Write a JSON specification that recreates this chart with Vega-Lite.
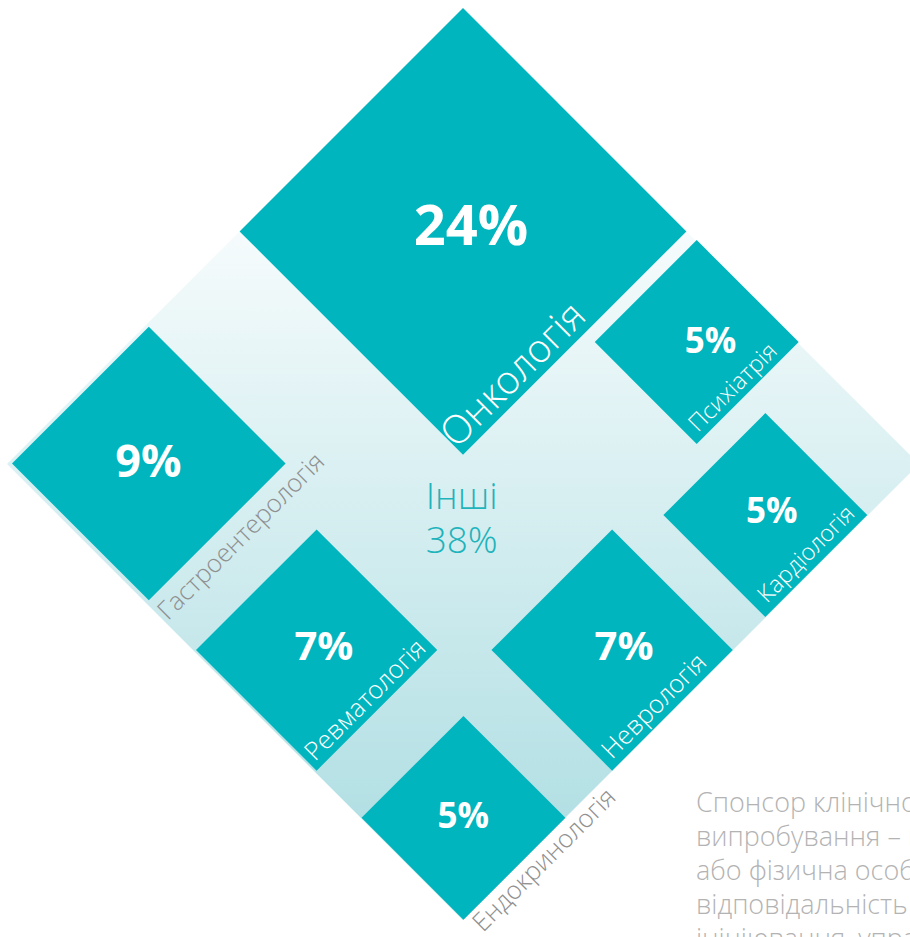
{
  "$schema": "https://vega.github.io/schema/vega-lite/v6.json",
  "width": 910,
  "height": 937,
  "autosize": {"type": "none"},
  "padding": 0,
  "background": "#ffffff",
  "config": {"view": {"stroke": null}, "font": "Open Sans"},
  "datasets": {
    "whole": [{"group": "Усі", "pct": 1, "cx": 0, "cy": 0}],
    "areas": [
      {"category": "Онкологія", "pct": 0.24, "cx": 0, "cy": -51, "px": 1.75, "py": -48.0, "lx": -1.43, "ly": -3.18, "place": "inside"},
      {"category": "Психіатрія", "pct": 0.05, "cx": 51.25, "cy": -26.75, "px": 54.3, "py": -24.3, "lx": 51.54, "ly": -6.8, "place": "inside"},
      {"category": "Кардіологія", "pct": 0.05, "cx": 66.3, "cy": 11.2, "px": 67.7, "py": 13.0, "lx": 66.67, "ly": 30.7, "place": "inside"},
      {"category": "Гастроентерологія", "pct": 0.09, "cx": -68.9, "cy": -0.1, "px": -68.97, "py": 2.85, "lx": -64.7, "ly": 34.5, "place": "outside"},
      {"category": "Ревматологія", "pct": 0.07, "cx": -32.1, "cy": 40.8, "px": -30.5, "py": 43.0, "lx": -32.46, "ly": 65.35, "place": "inside"},
      {"category": "Неврологія", "pct": 0.07, "cx": 32.7, "cy": 40.8, "px": 35.3, "py": 43.0, "lx": 32.7, "ly": 64.9, "place": "inside"},
      {"category": "Ендокринологія", "pct": 0.05, "cx": 0.1, "cy": 77.6, "px": 0.07, "py": 79.9, "lx": 4.39, "ly": 102.85, "place": "outside"}
    ],
    "others": [
      {"label": "Інші\n38%", "x": -0.29, "y": 9.87}
    ],
    "note": [
      {"note": "Спонсор клінічного\nвипробування – компанія\nабо фізична особа, яка несе\nвідповідальність за\nініціювання, управління", "x": 51.1, "y": 76.3}
    ]
  },
  "resolve": {"scale": {"size": "independent", "color": "independent"}},
  "layer": [
    {
      "data": {"name": "whole"},
      "mark": {
        "type": "point",
        "shape": "diamond",
        "filled": true,
        "opacity": 1,
        "strokeWidth": 0,
        "fill": {
          "gradient": "linear",
          "x1": 0, "y1": 0, "x2": 0, "y2": 1,
          "stops": [
            {"offset": 0, "color": "#ffffff"},
            {"offset": 0.156, "color": "#ffffff"},
            {"offset": 1, "color": "#a7dbe0"}
          ]
        }
      },
      "encoding": {
        "x": {"field": "cx", "type": "quantitative", "scale": {"domain": [-101.535, 98.026], "nice": false, "zero": false}, "axis": null},
        "y": {"field": "cy", "type": "quantitative", "scale": {"domain": [-101.754, 103.728], "nice": false, "zero": false, "reverse": true}, "axis": null},
        "size": {"field": "pct", "type": "quantitative", "scale": {"type": "linear", "domain": [0, 1], "range": [0, 831744]}, "legend": null}
      }
    },
    {
      "data": {"name": "areas"},
      "mark": {"type": "point", "shape": "diamond", "filled": true, "opacity": 1, "strokeWidth": 0, "color": "#00b5bd"},
      "encoding": {
        "x": {"field": "cx", "type": "quantitative", "scale": {"domain": [-101.535, 98.026], "nice": false, "zero": false}, "axis": null},
        "y": {"field": "cy", "type": "quantitative", "scale": {"domain": [-101.754, 103.728], "nice": false, "zero": false, "reverse": true}, "axis": null},
        "size": {"field": "pct", "type": "quantitative", "scale": {"type": "linear", "domain": [0, 1], "range": [0, 831744]}, "legend": null},
        "tooltip": [{"field": "category", "type": "nominal"}, {"field": "pct", "type": "quantitative", "format": ".0%"}]
      }
    },
    {
      "data": {"name": "areas"},
      "mark": {"type": "text", "font": "Open Sans", "fontWeight": "bold", "color": "#ffffff", "align": "center", "baseline": "alphabetic"},
      "encoding": {
        "x": {"field": "px", "type": "quantitative", "scale": {"domain": [-101.535, 98.026], "nice": false, "zero": false}, "axis": null},
        "y": {"field": "py", "type": "quantitative", "scale": {"domain": [-101.754, 103.728], "nice": false, "zero": false, "reverse": true}, "axis": null},
        "text": {"field": "pct", "type": "quantitative", "format": ".0%"},
        "size": {"field": "pct", "type": "quantitative", "scale": {"type": "threshold", "domain": [0.06, 0.08, 0.1], "range": [35, 40, 45, 56]}, "legend": null}
      }
    },
    {
      "data": {"name": "areas"},
      "transform": [{"filter": {"field": "category", "equal": "Онкологія"}}],
      "mark": {"type": "text", "font": "Open Sans Light, Open Sans", "fontWeight": 300, "fontSize": 39.5, "angle": -45, "align": "left", "baseline": "alphabetic", "color": "#ffffff"},
      "encoding": {
        "x": {"field": "lx", "type": "quantitative", "scale": {"domain": [-101.535, 98.026], "nice": false, "zero": false}, "axis": null},
        "y": {"field": "ly", "type": "quantitative", "scale": {"domain": [-101.754, 103.728], "nice": false, "zero": false, "reverse": true}, "axis": null},
        "text": {"field": "category", "type": "nominal"}
      }
    },
    {
      "data": {"name": "areas"},
      "transform": [{"filter": {"field": "category", "oneOf": ["Психіатрія", "Кардіологія"]}}],
      "mark": {"type": "text", "font": "Open Sans Light, Open Sans", "fontWeight": 300, "fontSize": 23.5, "angle": -45, "align": "left", "baseline": "alphabetic", "color": "#ffffff"},
      "encoding": {
        "x": {"field": "lx", "type": "quantitative", "scale": {"domain": [-101.535, 98.026], "nice": false, "zero": false}, "axis": null},
        "y": {"field": "ly", "type": "quantitative", "scale": {"domain": [-101.754, 103.728], "nice": false, "zero": false, "reverse": true}, "axis": null},
        "text": {"field": "category", "type": "nominal"}
      }
    },
    {
      "data": {"name": "areas"},
      "transform": [{"filter": {"field": "category", "oneOf": ["Гастроентерологія", "Ревматологія", "Неврологія", "Ендокринологія"]}}],
      "mark": {"type": "text", "font": "Open Sans Light, Open Sans", "fontWeight": 300, "fontSize": 25.5, "angle": -45, "align": "left", "baseline": "alphabetic"},
      "encoding": {
        "x": {"field": "lx", "type": "quantitative", "scale": {"domain": [-101.535, 98.026], "nice": false, "zero": false}, "axis": null},
        "y": {"field": "ly", "type": "quantitative", "scale": {"domain": [-101.754, 103.728], "nice": false, "zero": false, "reverse": true}, "axis": null},
        "text": {"field": "category", "type": "nominal"},
        "color": {"field": "place", "type": "nominal", "scale": {"domain": ["inside", "outside"], "range": ["#ffffff", "#909090"]}, "legend": null}
      }
    },
    {
      "data": {"name": "others"},
      "mark": {"type": "text", "font": "Open Sans Light, Open Sans", "fontWeight": 300, "fontSize": 37, "lineHeight": 44, "lineBreak": "\n", "color": "#1fb3bb", "align": "center", "baseline": "alphabetic"},
      "encoding": {
        "x": {"field": "x", "type": "quantitative", "scale": {"domain": [-101.535, 98.026], "nice": false, "zero": false}, "axis": null},
        "y": {"field": "y", "type": "quantitative", "scale": {"domain": [-101.754, 103.728], "nice": false, "zero": false, "reverse": true}, "axis": null},
        "text": {"field": "label", "type": "nominal"}
      }
    },
    {
      "data": {"name": "note"},
      "mark": {"type": "text", "font": "Open Sans Light, Open Sans", "fontWeight": 300, "fontSize": 27, "lineHeight": 34, "lineBreak": "\n", "color": "#b3b3b3", "align": "left", "baseline": "alphabetic"},
      "encoding": {
        "x": {"field": "x", "type": "quantitative", "scale": {"domain": [-101.535, 98.026], "nice": false, "zero": false}, "axis": null},
        "y": {"field": "y", "type": "quantitative", "scale": {"domain": [-101.754, 103.728], "nice": false, "zero": false, "reverse": true}, "axis": null},
        "text": {"field": "note", "type": "nominal"}
      }
    }
  ]
}
